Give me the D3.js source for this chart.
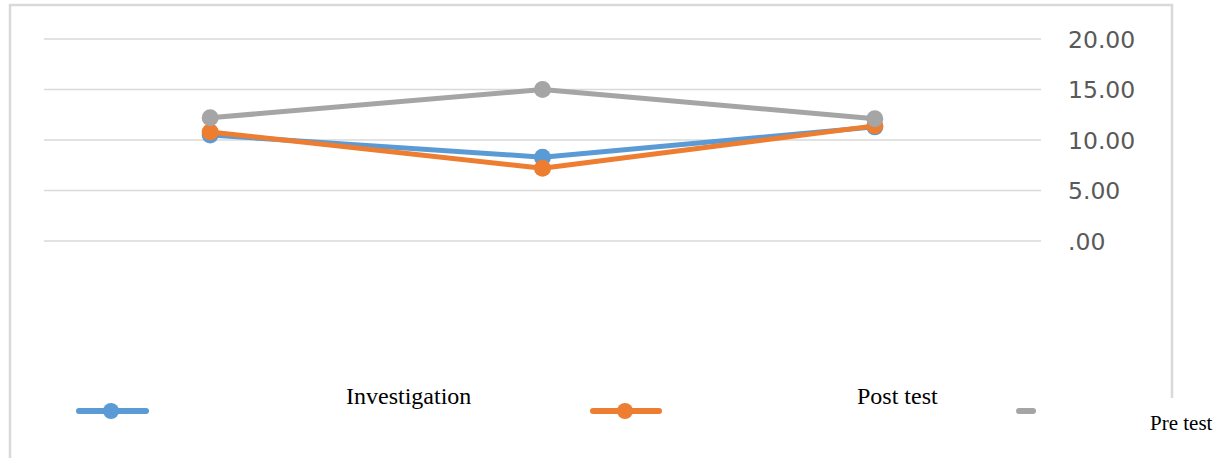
<!DOCTYPE html>
<html><head><meta charset="utf-8">
<script src="https://cdn.jsdelivr.net/npm/d3@7"></script>
<style>body{margin:0;background:#fff}svg{display:block}</style>
</head><body>
<svg id="c" width="1229" height="458"></svg>
<script>
const categories = ["Group 1", "Group 2", "Group 3"];
const seriesNames = ["Investigation", "Post test", "Pre test"];
const investigation = [10.5, 8.3, 11.3];
const postTest = [10.8, 7.2, 11.4];
const preTest = [12.2, 15.0, 12.1];
const yTicks = [0, 5, 10, 15, 20];
const tickLabels = [".00", "5.00", "10.00", "15.00", "20.00"];
const colors = ["#5B9BD5", "#ED7D31", "#A5A5A5"];

const series = [investigation, postTest, preTest];
const svg = d3.select("#c");

// frame
svg.append("path").attr("d", "M10,458 V5 H1172 V398")
  .attr("fill", "none").attr("stroke", "#D9D9D9").attr("stroke-width", 2.5);

const x = d3.scaleBand().domain(categories).range([44, 1041]);
const y = d3.scaleLinear().domain([0, 20]).range([241, 39]);

// gridlines
svg.append("g").selectAll("line").data(yTicks).join("line")
  .attr("x1", 44).attr("x2", 1041)
  .attr("y1", d => y(d)).attr("y2", d => y(d))
  .attr("stroke", "#D9D9D9").attr("stroke-width", 1.3);

// y axis labels
const yAxis = d3.axisRight(y).tickValues(yTicks).tickSize(0).tickPadding(0)
  .tickFormat((d, i) => tickLabels[i]);
const ga = svg.append("g").attr("transform", "translate(1068,0)").call(yAxis);
ga.select(".domain").remove();
ga.selectAll("text").attr("font-family", "DejaVu Sans").attr("font-size", 23.5)
  .attr("fill", "#595959").attr("dy", "0.35em");

const cx = d => x(d) + x.bandwidth() / 2;
const line = d3.line().x((d, i) => cx(categories[i])).y(d => y(d));

series.forEach((s, k) => {
  svg.append("path").datum(s).attr("d", line)
    .attr("fill", "none").attr("stroke", colors[k]).attr("stroke-width", 5)
    .attr("stroke-linejoin", "round");
  svg.append("g").selectAll("circle").data(s).join("circle")
    .attr("cx", (d, i) => cx(categories[i])).attr("cy", d => y(d))
    .attr("r", 8.5).attr("fill", colors[k]);
});

// legend
const legY = 411;
const legItems = [
  {x1: 79, x2: 146, mx: 111, tx: 346, ty: 404, marker: true},
  {x1: 593, x2: 659, mx: 625, tx: 857, ty: 404, marker: true},
  {x1: 1019, x2: 1033, mx: null, tx: 1150, ty: 430, marker: false}
];
legItems.forEach((l, k) => {
  svg.append("line").attr("x1", l.x1).attr("x2", l.x2).attr("y1", legY).attr("y2", legY)
    .attr("stroke", colors[k]).attr("stroke-width", 6).attr("stroke-linecap", "round");
  if (l.marker) svg.append("circle").attr("cx", l.mx).attr("cy", legY).attr("r", 8).attr("fill", colors[k]);
  svg.append("text").attr("x", l.tx).attr("y", l.ty).text(seriesNames[k])
    .attr("font-family", "Liberation Serif").attr("font-size", k === 2 ? 21 : 24).attr("fill", "#000");
});
</script>
</body></html>
